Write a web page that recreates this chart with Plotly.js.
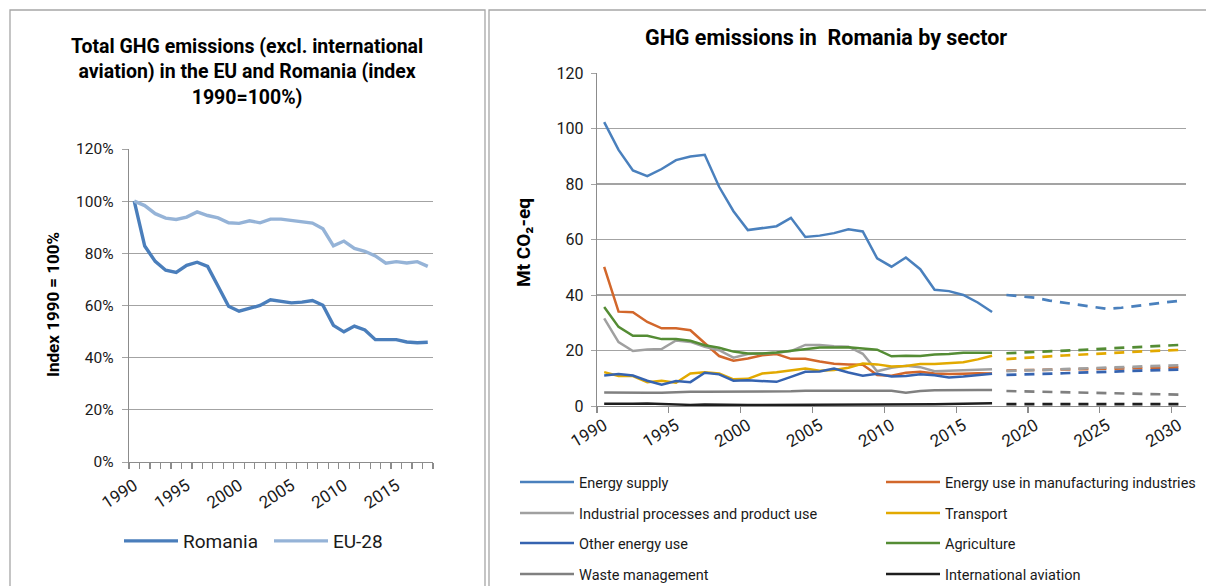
<!DOCTYPE html>
<html>
<head>
<meta charset="utf-8">
<script src="https://cdn.plot.ly/plotly-3.0.1.min.js"></script>
<style>
html,body{margin:0;padding:0;background:#fff;}
#chart{width:1206px;height:586px;}
</style>
</head>
<body>
<div id="chart"></div>
<script>
// ---------- Left chart: index 1990 = 100% ----------
const yearsIdx = [1990,1991,1992,1993,1994,1995,1996,1997,1998,1999,2000,2001,2002,2003,2004,2005,2006,2007,2008,2009,2010,2011,2012,2013,2014,2015,2016,2017,2018];
const romania = [100,82.8,76.9,73.5,72.7,75.4,76.6,75.0,67.4,59.7,57.8,58.9,60.0,62.2,61.5,61.0,61.3,61.9,60.1,52.4,49.9,52.1,50.6,46.9,46.9,46.9,46.0,45.7,45.9];
const eu28 = [100,98.3,95.2,93.5,93.0,93.9,95.9,94.5,93.6,91.7,91.5,92.5,91.7,93.1,93.1,92.6,92.4,91.6,89.4,82.9,84.7,81.9,80.8,79.0,76.2,76.8,76.3,76.8,75.0];
const leftTickVals = [1990,1995,2000,2005,2010,2015];
const leftTickText = ['1990','1995','2000','2005','2010','2015'];
const leftYTicks = [0,20,40,60,80,100,120];
const leftYTickText = ['0%','20%','40%','60%','80%','100%','120%'];

// ---------- Right chart: GHG emissions by sector (Mt CO2-eq) ----------
const yearsHist = [1990,1991,1992,1993,1994,1995,1996,1997,1998,1999,2000,2001,2002,2003,2004,2005,2006,2007,2008,2009,2010,2011,2012,2013,2014,2015,2016,2017];
const yearsProj = [2018,2019,2020,2021,2022,2023,2024,2025,2026,2027,2028,2029,2030];
const sectorNames = ['Energy supply','Energy use in manufacturing industries','Industrial processes and product use','Transport','Other energy use','Agriculture','Waste management','International aviation'];

const energySupply = [102.3,92.3,84.9,82.8,85.4,88.6,89.9,90.5,79.0,70.2,63.4,64.0,64.8,67.8,60.9,61.4,62.3,63.7,62.9,53.2,50.2,53.5,49.3,41.9,41.4,40.0,37.3,33.9];
const energySupplyProj = [40.0,39.6,39.0,38.0,37.2,36.4,35.6,35.0,35.4,36.1,36.8,37.3,37.9];
const manufacturing = [50.1,34.0,33.8,30.3,28.0,28.0,27.3,22.5,18.0,16.3,17.1,18.3,18.7,17.0,17.0,16.0,15.2,15.0,14.9,11.2,10.9,12.0,12.3,11.7,11.5,11.6,11.8,11.7];
const manufacturingProj = [12.8,12.9,12.9,13.0,13.1,13.2,13.3,13.4,13.5,13.6,13.7,13.8,13.9];
const industrial = [31.6,23.0,19.8,20.4,20.5,23.6,23.1,21.3,20.1,17.4,18.7,18.9,19.2,19.8,22.0,22.0,21.5,21.4,18.8,12.5,13.8,14.5,14.0,12.5,12.7,12.8,13.0,13.2];
const industrialProj = [12.6,12.7,12.9,13.1,13.3,13.5,13.7,13.9,14.1,14.3,14.5,14.6,14.7];
const transport = [12.2,10.8,10.8,8.6,9.1,8.4,11.7,12.2,11.7,9.6,9.8,11.7,12.2,12.8,13.5,12.7,13.0,13.8,15.3,15.0,14.2,14.4,15.1,15.1,15.5,15.8,16.8,18.1];
const transportProj = [16.9,17.3,17.6,17.9,18.2,18.5,18.8,19.1,19.4,19.6,19.8,20.0,20.2];
const otherEnergy = [11.0,11.5,11.0,9.1,7.7,9.0,8.6,12.0,11.4,9.1,9.3,8.9,8.7,10.5,12.3,12.4,13.5,12.1,10.9,11.6,10.6,10.8,11.4,11.1,10.3,10.6,11.1,11.6];
const otherEnergyProj = [11.2,11.3,11.4,11.6,11.8,12.0,12.2,12.4,12.6,12.7,12.9,13.0,13.1];
const agriculture = [35.7,28.5,25.3,25.3,24.1,24.1,23.5,21.9,21.0,19.6,18.9,18.9,19.3,19.9,20.7,21.1,21.1,21.2,20.7,20.3,17.9,18.1,18.0,18.6,18.7,19.2,19.2,19.2];
const agricultureProj = [19.0,19.2,19.4,19.7,19.9,20.2,20.4,20.7,21.0,21.3,21.5,21.8,22.0];
const waste = [4.9,4.8,4.8,4.8,4.8,5.0,5.1,5.1,5.1,5.1,5.1,5.1,5.1,5.3,5.5,5.5,5.5,5.5,5.4,5.4,5.5,4.8,5.4,5.7,5.8,5.8,5.8,5.8];
const wasteProj = [5.4,5.3,5.2,5.0,4.9,4.8,4.7,4.6,4.5,4.4,4.3,4.2,4.1];
const aviation = [0.8,0.7,0.8,0.9,0.7,0.6,0.4,0.5,0.4,0.4,0.4,0.4,0.4,0.4,0.4,0.5,0.5,0.5,0.5,0.5,0.5,0.5,0.5,0.6,0.7,0.8,0.9,1.0];
const aviationProj = [0.7,0.7,0.7,0.7,0.7,0.7,0.7,0.7,0.7,0.7,0.7,0.7,0.7];

const rightTickVals = [1990,1995,2000,2005,2010,2015,2020,2025,2030];
const rightTickText = ['1990','1995','2000','2005','2010','2015','2020','2025','2030'];
const rightYTicks = [0,20,40,60,80,100,120];
const rightYTickText = ['0','20','40','60','80','100','120'];

// ---------- styling ----------
const W = 1206, H = 586;
const FONT = 'Roboto, "Liberation Sans", sans-serif';
const GRID = '#a3a3a3';
const AXIS = '#8c8c8c';
const sectorColors = ['#4a80bd','#d2672b','#a0a0a0','#e2a900','#3563b0','#548c34','#808080','#1e1e1e'];
const histSeries = [energySupply, manufacturing, industrial, transport, otherEnergy, agriculture, waste, aviation];
const projSeries = [energySupplyProj, manufacturingProj, industrialProj, transportProj, otherEnergyProj, agricultureProj, wasteProj, aviationProj];
// legend slot positions (left x of legend line, row centre y) in px
const slotX = [521, 887, 521, 887, 521, 887, 521, 887];
const slotY = [482, 482, 513, 513, 543, 543, 574, 574];

const px = v => v / W;
const py = v => 1 - v / H;
const LEG_OFF = 6; // offset between legend x and start of its line

function oneLegend(xLine, yMid, size) {
  return {orientation: 'v', x: px(xLine - LEG_OFF), xanchor: 'left', y: py(yMid), yanchor: 'middle',
    font: {family: FONT, size: size, color: '#1a1a1a'}, bgcolor: 'rgba(0,0,0,0)',
    borderwidth: 0, itemwidth: 54};
}

const traces = [
  {x: yearsIdx, y: romania, name: 'Romania', type: 'scatter', mode: 'lines',
   line: {color: '#4a7ebb', width: 3.4}, xaxis: 'x', yaxis: 'y', legend: 'legend'},
  {x: yearsIdx, y: eu28, name: 'EU-28', type: 'scatter', mode: 'lines',
   line: {color: '#95b3d7', width: 3.4}, xaxis: 'x', yaxis: 'y', legend: 'legend2'}
];

sectorNames.forEach((nm, i) => {
  traces.push({x: yearsHist, y: histSeries[i], name: nm, type: 'scatter', mode: 'lines',
    line: {color: sectorColors[i], width: 2.5}, xaxis: 'x2', yaxis: 'y2', legend: 'legend' + (i + 3)});
});
sectorNames.forEach((nm, i) => {
  traces.push({x: yearsProj, y: projSeries[i], name: nm + ' (projection)', type: 'scatter', mode: 'lines',
    line: {color: sectorColors[i], width: 2.7, dash: '10px,8px'}, xaxis: 'x2', yaxis: 'y2', showlegend: false});
});

const layout = {
  width: W, height: H,
  margin: {l: 0, r: 0, t: 0, b: 0, autoexpand: false},
  paper_bgcolor: '#fff', plot_bgcolor: '#fff',
  font: {family: FONT, color: '#1a1a1a'},
  showlegend: true,
  xaxis: {domain: [px(129), px(433)], range: [1989.5, 2018.5], anchor: 'y', automargin: false,
    tickmode: 'array', tickvals: leftTickVals, ticktext: leftTickText, ticks: '',
    tickangle: -33, ticklabelstandoff: 6, tickfont: {family: FONT, size: 17, color: '#1a1a1a'},
    showgrid: false, zeroline: false, showline: true, linecolor: AXIS, linewidth: 1.3,
    minor: {ticks: 'outside', tick0: 1989.5, dtick: 1, ticklen: 6, tickcolor: AXIS, tickwidth: 1.2, showgrid: false},
    fixedrange: true},
  yaxis: {domain: [py(462), py(149)], range: [0, 120], anchor: 'x', automargin: false,
    tickmode: 'array', tickvals: leftYTicks, ticktext: leftYTickText,
    ticks: 'outside', ticklen: 6, tickcolor: GRID, ticklabelstandoff: 5,
    tickfont: {family: FONT, size: 15.5, color: '#1a1a1a'},
    showgrid: true, gridcolor: GRID, gridwidth: 1.2, zeroline: false,
    showline: true, linecolor: AXIS, linewidth: 1.3, fixedrange: true},
  xaxis2: {domain: [px(597), px(1186)], range: [1989.5, 2030.5], anchor: 'y2', automargin: false,
    tickmode: 'array', tickvals: rightTickVals, ticktext: rightTickText, ticks: '',
    tickangle: -30, ticklabelstandoff: 2, tickfont: {family: FONT, size: 17, color: '#1a1a1a'},
    showgrid: false, zeroline: false, showline: true, linecolor: AXIS, linewidth: 1.3,
    minor: {ticks: 'outside', tick0: 1989.5, dtick: 5, ticklen: 6, tickcolor: AXIS, tickwidth: 1.2, showgrid: false},
    fixedrange: true},
  yaxis2: {domain: [py(406), py(73)], range: [0, 120], anchor: 'x2', automargin: false,
    tickmode: 'array', tickvals: rightYTicks, ticktext: rightYTickText,
    ticks: 'outside', ticklen: 5, tickcolor: GRID, ticklabelstandoff: 4,
    tickfont: {family: FONT, size: 16, color: '#1a1a1a'},
    showgrid: true, gridcolor: GRID, gridwidth: 1.2, zeroline: false,
    showline: true, linecolor: AXIS, linewidth: 1.3, fixedrange: true},
  legend: oneLegend(125, 541, 19),
  legend2: oneLegend(275, 541, 19),
  annotations: [
    {xref: 'paper', yref: 'paper', x: px(247), y: py(72), xanchor: 'center', yanchor: 'middle',
     text: '<b>Total GHG emissions (excl. international<br>aviation) in the EU and Romania (index<br>1990=100%)</b>',
     showarrow: false, align: 'center', font: {family: FONT, size: 19.5, color: '#000'}},
    {xref: 'paper', yref: 'paper', x: px(826), y: py(38), xanchor: 'center', yanchor: 'middle',
     text: '<b>GHG emissions in  Romania by sector</b>',
     showarrow: false, font: {family: FONT, size: 21.5, color: '#000'}},
    {xref: 'paper', yref: 'paper', x: px(53), y: py(305), xanchor: 'center', yanchor: 'middle',
     text: '<b>Index 1990 = 100%</b>', textangle: -90,
     showarrow: false, font: {family: FONT, size: 17, color: '#000'}},
    {xref: 'paper', yref: 'paper', x: px(523), y: py(243), xanchor: 'center', yanchor: 'middle',
     text: '<b>Mt CO₂-eq</b>', textangle: -90,
     showarrow: false, font: {family: FONT, size: 19, color: '#000'}}
  ],
  shapes: [
    {type: 'rect', xref: 'paper', yref: 'paper', x0: px(10), x1: px(485), y0: py(600), y1: py(10),
     line: {color: '#a6a6a6', width: 1.3}, fillcolor: 'rgba(0,0,0,0)'},
    {type: 'rect', xref: 'paper', yref: 'paper', x0: px(489), x1: px(1215), y0: py(600), y1: py(10),
     line: {color: '#a6a6a6', width: 1.3}, fillcolor: 'rgba(0,0,0,0)'}
  ]
};
for (let i = 0; i < 8; i++) {
  layout['legend' + (i + 3)] = oneLegend(slotX[i], slotY[i], 14.5);
}

Plotly.newPlot('chart', traces, layout, {displayModeBar: false, staticPlot: true});
</script>
</body>
</html>
